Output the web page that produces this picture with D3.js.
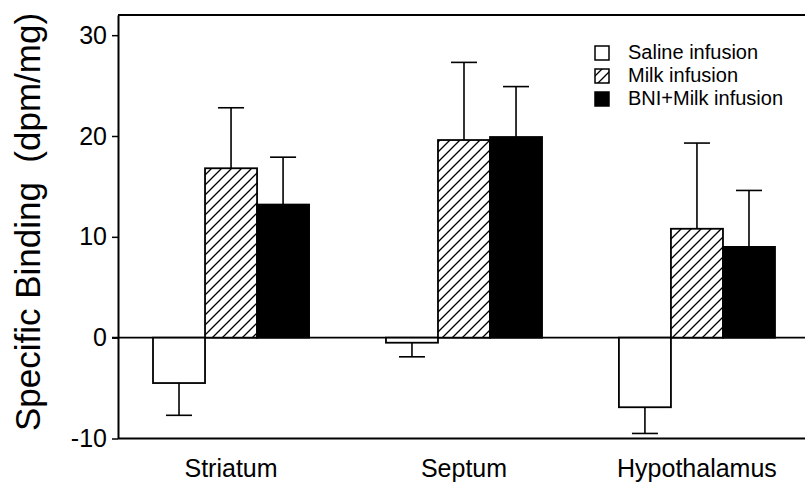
<!DOCTYPE html>
<html>
<head>
<meta charset="utf-8">
<script src="https://cdn.jsdelivr.net/npm/d3@7"></script>
<style>
    body { margin: 0; background: #fff; }
    text { font-family: Arial, "Liberation Sans", Helvetica, sans-serif; fill: #000; }
</style>
</head>
<body>
<div id="chart"></div>
<script>
// values
const regions = ["Striatum", "Septum", "Hypothalamus"];
const treatments = ["Saline infusion", "Milk infusion", "BNI+Milk infusion"];

const salineMeans = [-4.5, -0.5, -6.9];
const salineErr = [3.2, 1.4, 2.6];
const milkMeans = [16.8, 19.6, 10.8];
const milkErr = [6.0, 7.7, 8.5];
const bniMeans = [13.2, 19.9, 9.0];
const bniErr = [4.7, 5.0, 5.6];

const yTicks = [-10, 0, 10, 20, 30];

const means = [salineMeans, milkMeans, bniMeans];
const errs = [salineErr, milkErr, bniErr];
const fills = ["#fff", "url(#hatch)", "#000"];

const rows = [];
regions.forEach((r, i) => {
    treatments.forEach((t, j) => {
        rows.push({ region: r, treatment: t, value: means[j][i], err: errs[j][i], fill: fills[j] });
    });
});

const width = 805;
const height = 486;

const svg = d3.select("#chart")
    .append("svg")
    .attr("width", width)
    .attr("height", height);

// hatch pattern for milk bars
const defs = svg.append("defs");
const pattern = defs.append("pattern")
    .attr("id", "hatch")
    .attr("patternUnits", "userSpaceOnUse")
    .attr("width", 10)
    .attr("height", 10);
pattern.append("rect")
    .attr("width", 10)
    .attr("height", 10)
    .attr("fill", "#fff");
pattern.append("path")
    .attr("d", "M0,10 l10,-10 M-2.5,2.5 l5,-5 M7.5,12.5 l5,-5")
    .attr("stroke", "#000")
    .attr("stroke-width", 1.3);

const y = d3.scaleLinear()
    .domain([-10, 32])
    .range([438.5, 15]);

const x0 = d3.scaleBand()
    .domain(regions)
    .range([153, 775])
    .paddingInner(0.33)
    .paddingOuter(0);

const x1 = d3.scaleBand()
    .domain(treatments)
    .range([0, x0.bandwidth()])
    .padding(0);

const left = 118;

// frame lines
svg.append("line")
    .attr("x1", left).attr("x2", width)
    .attr("y1", y(32)).attr("y2", y(32))
    .attr("stroke", "#000").attr("stroke-width", 2);

svg.append("line")
    .attr("x1", left).attr("x2", width)
    .attr("y1", y(-10)).attr("y2", y(-10))
    .attr("stroke", "#000").attr("stroke-width", 2);

svg.append("line")
    .attr("x1", left - 6).attr("x2", width)
    .attr("y1", y(0)).attr("y2", y(0))
    .attr("stroke", "#000").attr("stroke-width", 1.8);

// y axis
const yAxis = svg.append("g")
    .attr("transform", `translate(${left},0)`)
    .call(d3.axisLeft(y)
        .tickValues(yTicks)
        .tickFormat(d => String(d))
        .tickSize(6)
        .tickSizeOuter(0)
        .tickPadding(5));

yAxis.select(".domain").attr("stroke-width", 2);
yAxis.selectAll(".tick line").attr("stroke-width", 1.5);
yAxis.selectAll(".tick text")
    .attr("font-size", "25px")
    .attr("font-family", "Arial, 'Liberation Sans', Helvetica, sans-serif")
    .attr("fill", "#000");

svg.append("text")
    .attr("transform", `translate(40,222) rotate(-90)`)
    .attr("text-anchor", "middle")
    .attr("font-size", "35px")
    .attr("xml:space", "preserve")
    .text("Specific Binding  (dpm/mg)");

// x labels
svg.append("g")
    .selectAll("text")
    .data(regions)
    .enter()
    .append("text")
    .attr("x", d => x0(d) + x0.bandwidth() / 2)
    .attr("y", 477)
    .attr("text-anchor", "middle")
    .attr("font-size", "25px")
    .text(d => d);

// bars
const barGroup = svg.append("g");

barGroup.selectAll("rect")
    .data(rows)
    .enter()
    .append("rect")
    .attr("x", d => x0(d.region) + x1(d.treatment))
    .attr("y", d => y(Math.max(0, d.value)))
    .attr("width", x1.bandwidth())
    .attr("height", d => Math.abs(y(d.value) - y(0)))
    .attr("fill", d => d.fill)
    .attr("stroke", "#000")
    .attr("stroke-width", 1.8);

// error bars, one side only
const errGroup = svg.append("g")
    .attr("stroke", "#000")
    .attr("stroke-width", 1.6);

rows.forEach(d => {
    const cx = x0(d.region) + x1(d.treatment) + x1.bandwidth() / 2;
    const end = d.value < 0 ? d.value - d.err : d.value + d.err;
    errGroup.append("line")
        .attr("x1", cx).attr("x2", cx)
        .attr("y1", y(d.value)).attr("y2", y(end));
    errGroup.append("line")
        .attr("x1", cx - 13).attr("x2", cx + 13)
        .attr("y1", y(end)).attr("y2", y(end));
});

// legend
const legend = svg.append("g")
    .attr("transform", "translate(595,46)");

treatments.forEach((t, i) => {
    legend.append("rect")
        .attr("x", 0)
        .attr("y", i * 23)
        .attr("width", 14)
        .attr("height", 14)
        .attr("fill", fills[i])
        .attr("stroke", "#000")
        .attr("stroke-width", 1.5);

    legend.append("text")
        .attr("x", 33)
        .attr("y", i * 23 + 13)
        .attr("font-size", "20px")
        .text(t);
});
</script>
</body>
</html>
